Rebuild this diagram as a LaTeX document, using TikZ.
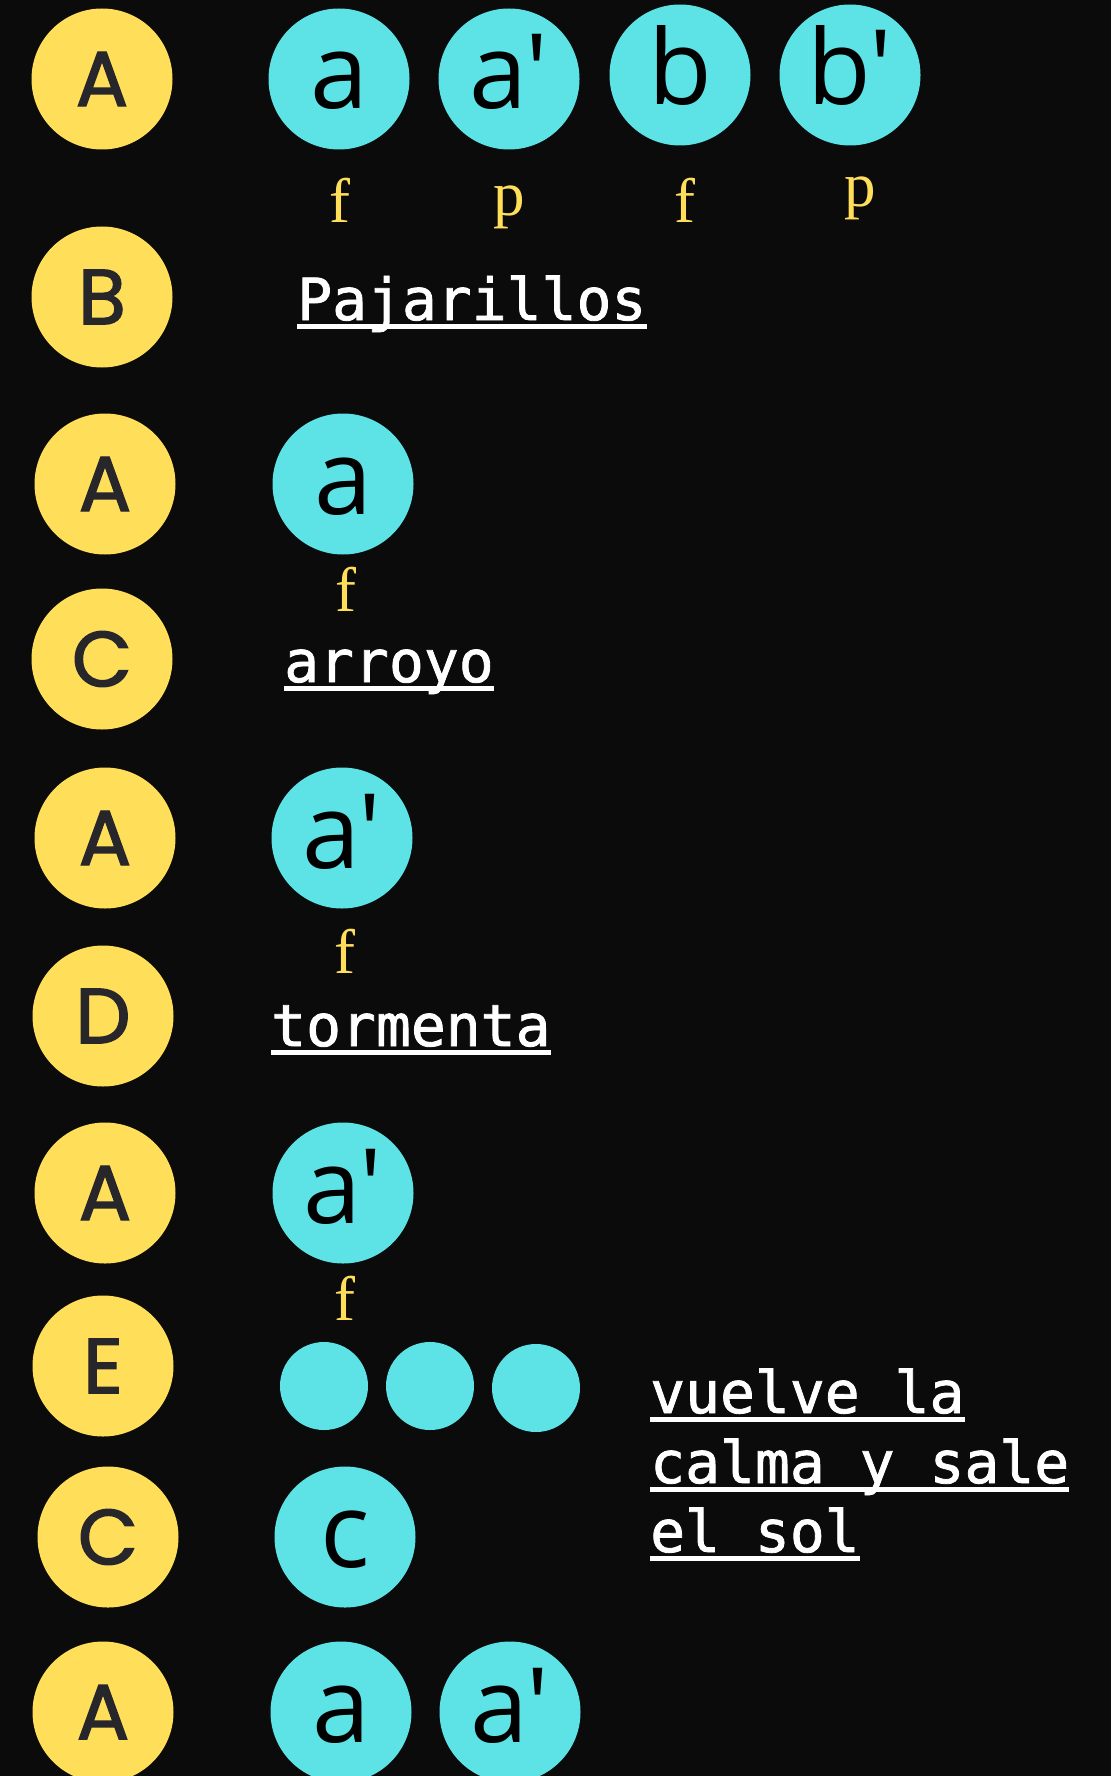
\documentclass[tikz,border=0pt]{standalone}
\usepackage{fontspec}
\usetikzlibrary{positioning}
\newfontfamily\sectfont[FakeBold=1.8]{Poppins}
\newfontfamily\motivfont[Ligatures=TeXOff]{Open Sans}
\newfontfamily\dynfont{Liberation Serif}
\newfontfamily\wordfont[FakeBold=1.4]{DejaVu Sans Mono}
\definecolor{bgdark}{HTML}{0B0B0B}
\definecolor{myellow}{HTML}{FFDE5A}
\definecolor{mcyan}{HTML}{5DE2E6}
\definecolor{mink}{HTML}{26262B}
\tikzset{sect/.style = {circle, fill=myellow, text=mink, inner sep=0pt,
                        minimum size=141pt,
                        font=\sectfont\fontsize{78}{78}\selectfont}}
\tikzset{motiv/.style = {circle, fill=mcyan, text=black, inner sep=0pt,
                         minimum size=141pt, text height=60pt, text depth=0pt,
                         font=\motivfont\fontsize{104}{104}\selectfont}}
\tikzset{dot/.style = {circle, fill=mcyan, inner sep=0pt, minimum size=88pt}}
\tikzset{dyn/.style = {text=myellow, inner sep=0pt, anchor=base,
                       font=\dynfont\fontsize{63}{63}\selectfont}}
\tikzset{word/.style = {text=white, inner sep=0pt, anchor=base west,
                        font=\wordfont\fontsize{58}{58}\selectfont}}
\tikzset{uline/.style = {white, line width=5.5pt}}
\begin{document}
\begin{tikzpicture}[x=1pt, y=-1pt]
      \path[use as bounding box, fill=bgdark] (0,0) rectangle (1111,1776);
      % sections
      \node[sect] (sA1) at (102,79) {A};
      \node[sect] (sB) at (102,297) {B};
      \node[sect] (sA2) at (105,484) {A};
      \node[sect] (sC1) at (102,659) {C};
      \node[sect] (sA3) at (105,838) {A};
      \node[sect] (sD) at (103,1016) {D};
      \node[sect] (sA4) at (105,1193) {A};
      \node[sect] (sE) at (103,1366) {E};
      \node[sect] (sC2) at (108,1537) {C};
      \node[sect] (sA5) at (103,1712) {A};
      % motifs
      \node[motiv] (m1a) at (339,79) {a};
      \node[motiv] (m1ap) at (509,79) {a'};
      \node[motiv] (m1b) at (680,75) {b};
      \node[motiv] (m1bp) at (850,75) {b'};
      \node[motiv] (m2a) at (343,484) {a};
      \node[motiv] (m3ap) at (342,838) {a'};
      \node[motiv] (m4ap) at (343,1193) {a'};
      \node[dot] (e1) at (324,1386) {};
      \node[dot] (e2) at (430,1386) {};
      \node[dot] (e3) at (536,1388) {};
      \node[motiv] (m5c) at (345,1537) {c};
      \node[motiv] (m6a) at (341,1712) {a};
      \node[motiv] (m6ap) at (510,1712) {a'};
      % dynamics
      \node[dyn] (d1) at (340,223) {f};
      \node[dyn] (d2) at (509,216) {p};
      \node[dyn] (d3) at (685,223) {f};
      \node[dyn] (d4) at (860,207) {p};
      \node[dyn] (d5) at (346,611) {f};
      \node[dyn] (d6) at (345,973) {f};
      \node[dyn] (d7) at (345,1320) {f};
      % words
      \node[word] (wPaj) at (297,320) {Pajarillos};
      \node[word] (wArr) at (284,682) {arroyo};
      \node[word] (wTor) at (271,1046) {tormenta};
      \node[word] (wV1) at (650,1413) {vuelve la};
      \node[word] (wV2) at (650,1483) {calma y sale};
      \node[word] (wV3) at (650,1552) {el sol};
      \foreach \w in {wPaj,wArr,wTor,wV1,wV2,wV3}
        \draw[uline] ([yshift=-6.5pt]\w.base west) -- ([yshift=-6.5pt]\w.base east);
\end{tikzpicture}
\end{document}
